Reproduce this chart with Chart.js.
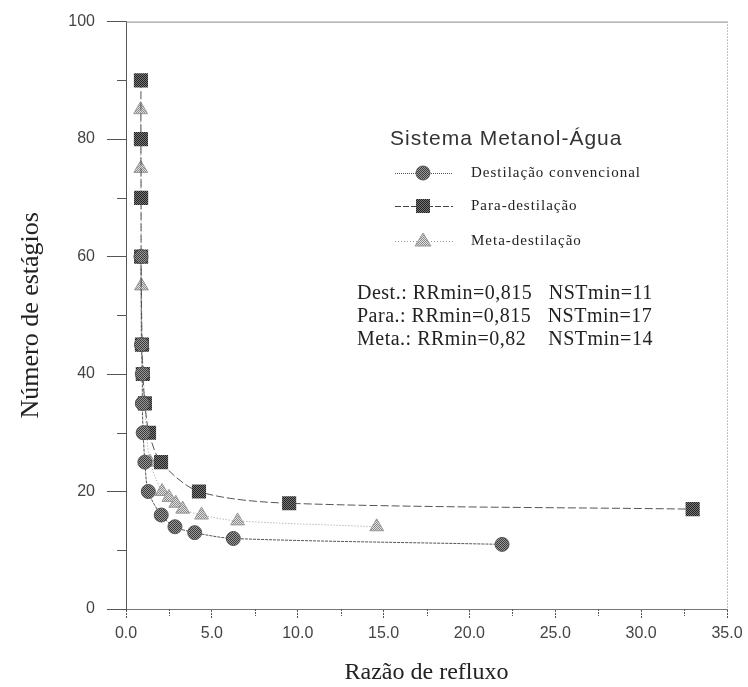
<!DOCTYPE html>
<html><head><meta charset="utf-8">
<script src="https://cdn.jsdelivr.net/npm/chart.js@4/dist/chart.umd.min.js"></script>
<style>html,body{margin:0;background:#fff}</style>
</head><body>
<canvas id="c" width="748" height="687"></canvas>
<script>
// data
const destX=[0.87,0.9,0.95,0.95,1.0,1.1,1.3,2.05,2.85,4.0,6.25,21.9];
const destY=[60,45,40,35,30,25,20,16,14,13,12,11];
const paraX=[0.87,0.87,0.88,0.88,0.93,0.98,1.1,1.34,2.04,4.25,9.5,33.0];
const paraY=[90,80,70,60,45,40,35,30,25,20,18,17];
const metaX=[0.85,0.86,0.9,0.95,1.0,1.1,1.2,1.4,2.1,2.5,2.9,3.3,4.4,6.5,14.6];
const metaY=[85,75,55,45,40,35,30,25,20,19,18,17,16,15,14];
const xTickVals=[0,5,10,15,20,25,30,35];
const xMinor=[2.5,7.5,12.5,17.5,22.5,27.5,32.5];
const yMinor=[10,30,50,70,90];
const seriesNames=['Destilação convencional','Para-destilação','Meta-destilação'];
const notes=['Dest.: RRmin=0,815   NSTmin=11','Para.: RRmin=0,815   NSTmin=17','Meta.: RRmin=0,82    NSTmin=14'];

const cv=document.getElementById('c'); const g=cv.getContext('2d');
function pat(a,b){const c=document.createElement('canvas');c.width=c.height=2;const t=c.getContext('2d');t.fillStyle=a;t.fillRect(0,0,2,2);t.fillStyle=b;t.fillRect(0,0,1,1);t.fillRect(1,1,1,1);return g.createPattern(c,'repeat');}
const fC=pat('#9a9a9a','#3a3a3a'), fS=pat('#777','#222'), fT=pat('#e0e0e0','#8a8a8a');
const pts=(xs,ys)=>xs.map((x,i)=>({x,y:ys[i]}));

function mark(ctx,kind,x,y){
  ctx.save();ctx.setLineDash([]);ctx.lineWidth=1;
  if(kind==0){ctx.fillStyle=fC;ctx.strokeStyle='#555';ctx.beginPath();ctx.arc(x,y,7,0,Math.PI*2);ctx.fill();ctx.stroke();}
  else if(kind==1){ctx.fillStyle=fS;ctx.fillRect(x-7,y-7,14,14);}
  else {ctx.fillStyle=fT;ctx.strokeStyle='#999';ctx.beginPath();ctx.moveTo(x,y-8);ctx.lineTo(x+8,y+5);ctx.lineTo(x-8,y+5);ctx.closePath();ctx.fill();ctx.stroke();}
  ctx.restore();
}

const deco={id:'deco',afterDraw(ch){
  const {ctx,chartArea:a,scales:{x,y}}=ch; ctx.save();
  ctx.strokeStyle='#555';ctx.lineWidth=1;
  yMinor.forEach(v=>{const p=Math.round(y.getPixelForValue(v))+.5;ctx.beginPath();ctx.moveTo(a.left-9,p);ctx.lineTo(a.left,p);ctx.stroke();});
  ctx.setLineDash([2,1]);
  xMinor.forEach(v=>{const p=Math.round(x.getPixelForValue(v))+.5;ctx.beginPath();ctx.moveTo(p,a.bottom);ctx.lineTo(p,a.bottom+7);ctx.stroke();});
  ctx.setLineDash([]);ctx.strokeStyle='#888';
  ctx.beginPath();ctx.moveTo(a.left,a.top+.5);ctx.lineTo(a.right,a.top+.5);ctx.stroke();
  ctx.setLineDash([1,2]);ctx.beginPath();ctx.moveTo(a.right+.5,a.top);ctx.lineTo(a.right+.5,a.bottom);ctx.stroke();
  // legend box
  ctx.setLineDash([]);ctx.fillStyle='#333';ctx.font='21px "Liberation Sans"';ctx.textBaseline='alphabetic';ctx.letterSpacing='1px';
  ctx.fillText('Sistema Metanol-Água',390,145);
  const rows=[173,206,241], dash=[[1,1],[6,2],[1,2]], col=['#555','#444','#999'];
  ctx.font='15px "Liberation Serif"';ctx.textBaseline='middle';
  rows.forEach((ry,i)=>{ctx.strokeStyle=col[i];ctx.setLineDash(dash[i]);ctx.beginPath();ctx.moveTo(395,ry+.5);ctx.lineTo(453,ry+.5);ctx.stroke();
    mark(ctx,i,423,ry);ctx.fillStyle='#222';ctx.fillText(seriesNames[i],471,ry);});
  ctx.font='20px "Liberation Serif"';ctx.textBaseline='alphabetic';ctx.fillStyle='#222';ctx.letterSpacing='0.5px';
  notes.forEach((t,i)=>{ctx.fillText(t,357,299+23*i);});
  ctx.restore();
}};

new Chart(cv,{type:'scatter',
  data:{datasets:[
    {label:seriesNames[0],data:pts(destX,destY),showLine:true,tension:0.3,borderColor:'#555',borderWidth:1,borderDash:[3,1],
     pointStyle:'circle',pointRadius:7,backgroundColor:fC,pointBorderColor:'#555',pointBorderWidth:1},
    {label:seriesNames[1],data:pts(paraX,paraY),showLine:true,tension:0.3,borderColor:'#555',borderWidth:1,borderDash:[8,3],
     pointStyle:'rect',pointRadius:10,backgroundColor:fS,pointBorderColor:'#333',pointBorderWidth:0},
    {label:seriesNames[2],data:pts(metaX,metaY),showLine:true,tension:0.3,borderColor:'#999',borderWidth:1,borderDash:[1,2],
     pointStyle:'triangle',pointRadius:8,backgroundColor:fT,pointBorderColor:'#999',pointBorderWidth:1}
  ]},
  options:{responsive:false,animation:false,
    layout:{padding:{top:20,right:21,left:0,bottom:0}},
    plugins:{legend:{display:false},tooltip:{enabled:false}},
    scales:{
      x:{type:'linear',min:0,max:35,afterFit(s){s.height=78;},
        afterBuildTicks(s){s.ticks=xTickVals.map(v=>({value:v}));},
        ticks:{callback:v=>v.toFixed(1),padding:5,color:'#444',font:{family:'Liberation Sans',size:16}},
        grid:{drawOnChartArea:false,tickLength:10,color:'#555',tickBorderDash:[2,1]},
        border:{color:'#777'},
        title:{display:true,text:'Razão de refluxo',color:'#222',font:{family:'Liberation Serif',size:24},padding:{bottom:0}}},
      y:{min:0,max:100,afterFit(s){s.width=126;},
        ticks:{stepSize:20,padding:12,color:'#444',font:{family:'Liberation Sans',size:16}},
        grid:{drawOnChartArea:false,tickLength:19,color:'#555'},
        border:{color:'#555',dash:[1,2]},
        title:{display:true,text:'Número de estágios',color:'#222',font:{family:'Liberation Serif',size:26},padding:{top:16}}}
    }},
  plugins:[deco]});
</script>
</body></html>
